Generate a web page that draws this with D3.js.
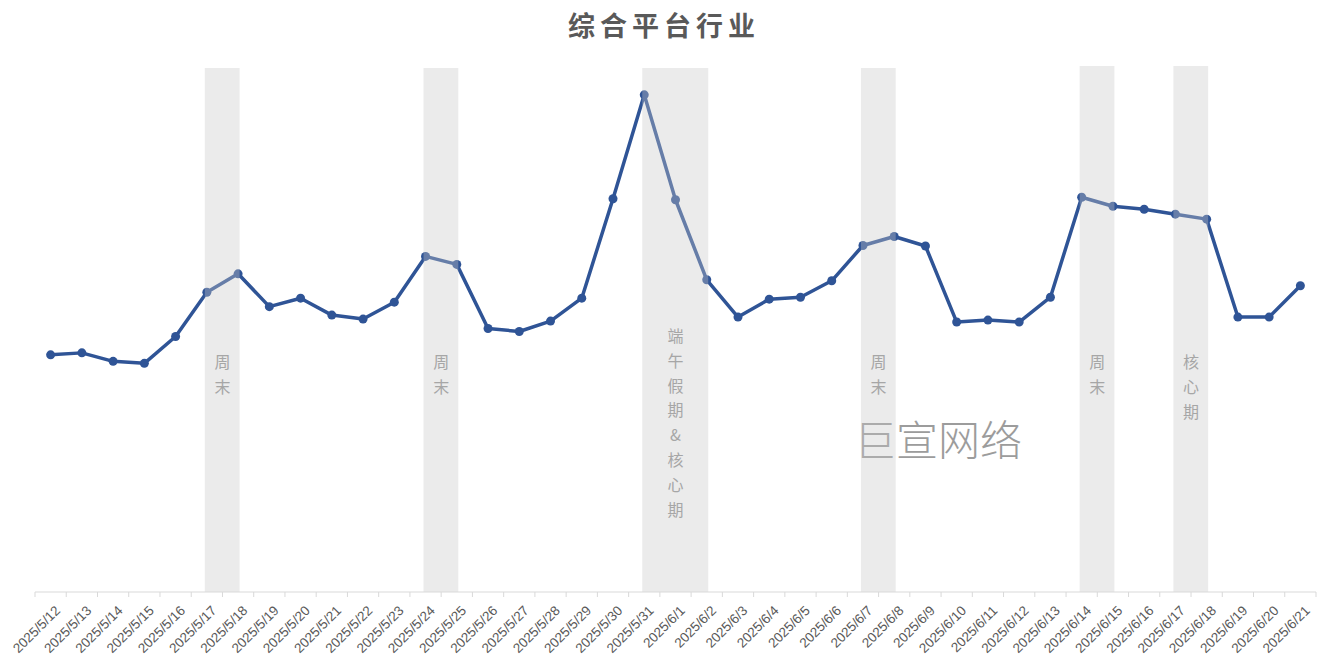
<!DOCTYPE html>
<html>
<head>
<meta charset="utf-8">
<script src="https://cdn.jsdelivr.net/npm/d3@7"></script>
<style>
  body { margin: 0; background: #fff; }
  svg { display: block; }
</style>
</head>
<body>
<svg id="chart" width="1334" height="663"></svg>
<script>
// 日付
const dates = [
  "2025/5/12","2025/5/13","2025/5/14","2025/5/15","2025/5/16","2025/5/17","2025/5/18",
  "2025/5/19","2025/5/20","2025/5/21","2025/5/22","2025/5/23","2025/5/24","2025/5/25",
  "2025/5/26","2025/5/27","2025/5/28","2025/5/29","2025/5/30","2025/5/31","2025/6/1",
  "2025/6/2","2025/6/3","2025/6/4","2025/6/5","2025/6/6","2025/6/7","2025/6/8",
  "2025/6/9","2025/6/10","2025/6/11","2025/6/12","2025/6/13","2025/6/14","2025/6/15",
  "2025/6/16","2025/6/17","2025/6/18","2025/6/19","2025/6/20","2025/6/21"
];
// 指数 (picture-read)
const values = [
  47.7, 48.1, 46.4, 46.0, 51.4, 60.3, 64.0,
  57.4, 59.1, 55.7, 54.9, 58.3, 67.5, 65.9,
  53.0, 52.4, 54.5, 59.1, 79.1, 100.0, 78.9,
  62.8, 55.3, 58.9, 59.3, 62.6, 69.7, 71.5,
  69.6, 54.3, 54.7, 54.3, 59.3, 79.4, 77.6,
  77.0, 76.0, 75.0, 55.3, 55.3, 61.6
];
// 網掛け期間
const periodStart = ["2025/5/17", "2025/5/24", "2025/5/31", "2025/6/7", "2025/6/14", "2025/6/17"];
const periodEnd   = ["2025/5/18", "2025/5/25", "2025/6/2",  "2025/6/8", "2025/6/15", "2025/6/18"];
const periodLabel = ["周末", "周末", "端午假期&核心期", "周末", "周末", "核心期"];

const title = "综合平台行业";
const watermark = "巨宣网络";

const svg = d3.select("#chart");
const axisY = 592;

const x = d3.scaleBand()
    .domain(dates)
    .range([35, 1316]);
const cx = function(d){ return x(d) + x.bandwidth() / 2; };

const y = d3.scaleLinear()
    .domain([0, 105])
    .range([axisY, 70]);

// タイトル
svg.append("text")
  .attr("x", 664)
  .attr("y", 36)
  .attr("text-anchor", "middle")
  .style("font-family", "'Noto Sans CJK SC', sans-serif")
  .style("font-size", "27px")
  .style("font-weight", "bold")
  .style("letter-spacing", "5px")
  .style("fill", "#595959")
  .text(title);

// 透かし
svg.append("text")
  .attr("x", 938)
  .attr("y", 456)
  .attr("text-anchor", "middle")
  .style("font-family", "'Noto Sans CJK SC', sans-serif")
  .style("font-size", "42px")
  .style("font-weight", 300)
  .style("fill", "#9c9c9c")
  .text(watermark);

// 折れ線
const line = d3.line()
    .x(function(d, i){ return cx(dates[i]); })
    .y(function(d){ return y(d); });

svg.append("path")
  .datum(values)
  .attr("d", line)
  .attr("fill", "none")
  .attr("stroke", "#2f5496")
  .attr("stroke-width", 3.5)
  .attr("stroke-linejoin", "round");

svg.selectAll("circle.pt")
  .data(values)
  .enter()
  .append("circle")
  .attr("class", "pt")
  .attr("cx", function(d, i){ return cx(dates[i]); })
  .attr("cy", function(d){ return y(d); })
  .attr("r", 4.5)
  .attr("fill", "#2f5496");

// 網掛け（線の上に半透明で重ねる）
const periods = periodStart.map(function(s, i){
  return { start: s, end: periodEnd[i], label: periodLabel[i] };
});

svg.selectAll("rect.shade")
  .data(periods)
  .enter()
  .append("rect")
  .attr("class", "shade")
  .attr("x", function(d){ return cx(d.start) - 2; })
  .attr("width", function(d){ return cx(d.end) - cx(d.start) + 3.5; })
  .attr("y", function(d, i){ return i >= 4 ? 66 : 68; })
  .attr("height", function(d, i){ return axisY - (i >= 4 ? 66 : 68); })
  .attr("fill", "#c8c8c8")
  .attr("fill-opacity", 0.36);

// 縦書きラベル
periods.forEach(function(p){
  const mid = (cx(p.start) + cx(p.end)) / 2;
  const chars = Array.from(p.label);
  const top = chars.length > 3 ? 336 : 362;
  svg.append("g")
    .selectAll("text")
    .data(chars)
    .enter()
    .append("text")
    .attr("x", mid)
    .attr("y", function(d, i){ return top + i * 24.8 + 6; })
    .attr("text-anchor", "middle")
    .style("font-family", "'Noto Sans CJK SC', serif")
    .style("font-size", "16px")
    .style("fill", "#a6a6a6")
    .text(function(d){ return d; });
});

// X軸
svg.append("line")
  .attr("x1", 35).attr("x2", 1316)
  .attr("y1", axisY).attr("y2", axisY)
  .attr("stroke", "#d9d9d9")
  .attr("stroke-width", 1);

const bounds = dates.map(function(d){ return x(d); }).concat([x.range()[1]]);
svg.selectAll("line.tick")
  .data(bounds)
  .enter()
  .append("line")
  .attr("class", "tick")
  .attr("x1", function(d){ return d; })
  .attr("x2", function(d){ return d; })
  .attr("y1", axisY)
  .attr("y2", axisY + 5)
  .attr("stroke", "#d9d9d9");

svg.selectAll("text.xlab")
  .data(dates)
  .enter()
  .append("text")
  .attr("class", "xlab")
  .attr("transform", function(d){
    return "translate(" + (cx(d) + 7) + "," + (axisY + 16) + ") rotate(-45)";
  })
  .attr("text-anchor", "end")
  .attr("dy", "0.35em")
  .style("font-family", "'Liberation Sans', Arial, sans-serif")
  .style("font-size", "13.5px")
  .style("fill", "#595959")
  .text(function(d){ return d; });
</script>
</body>
</html>
